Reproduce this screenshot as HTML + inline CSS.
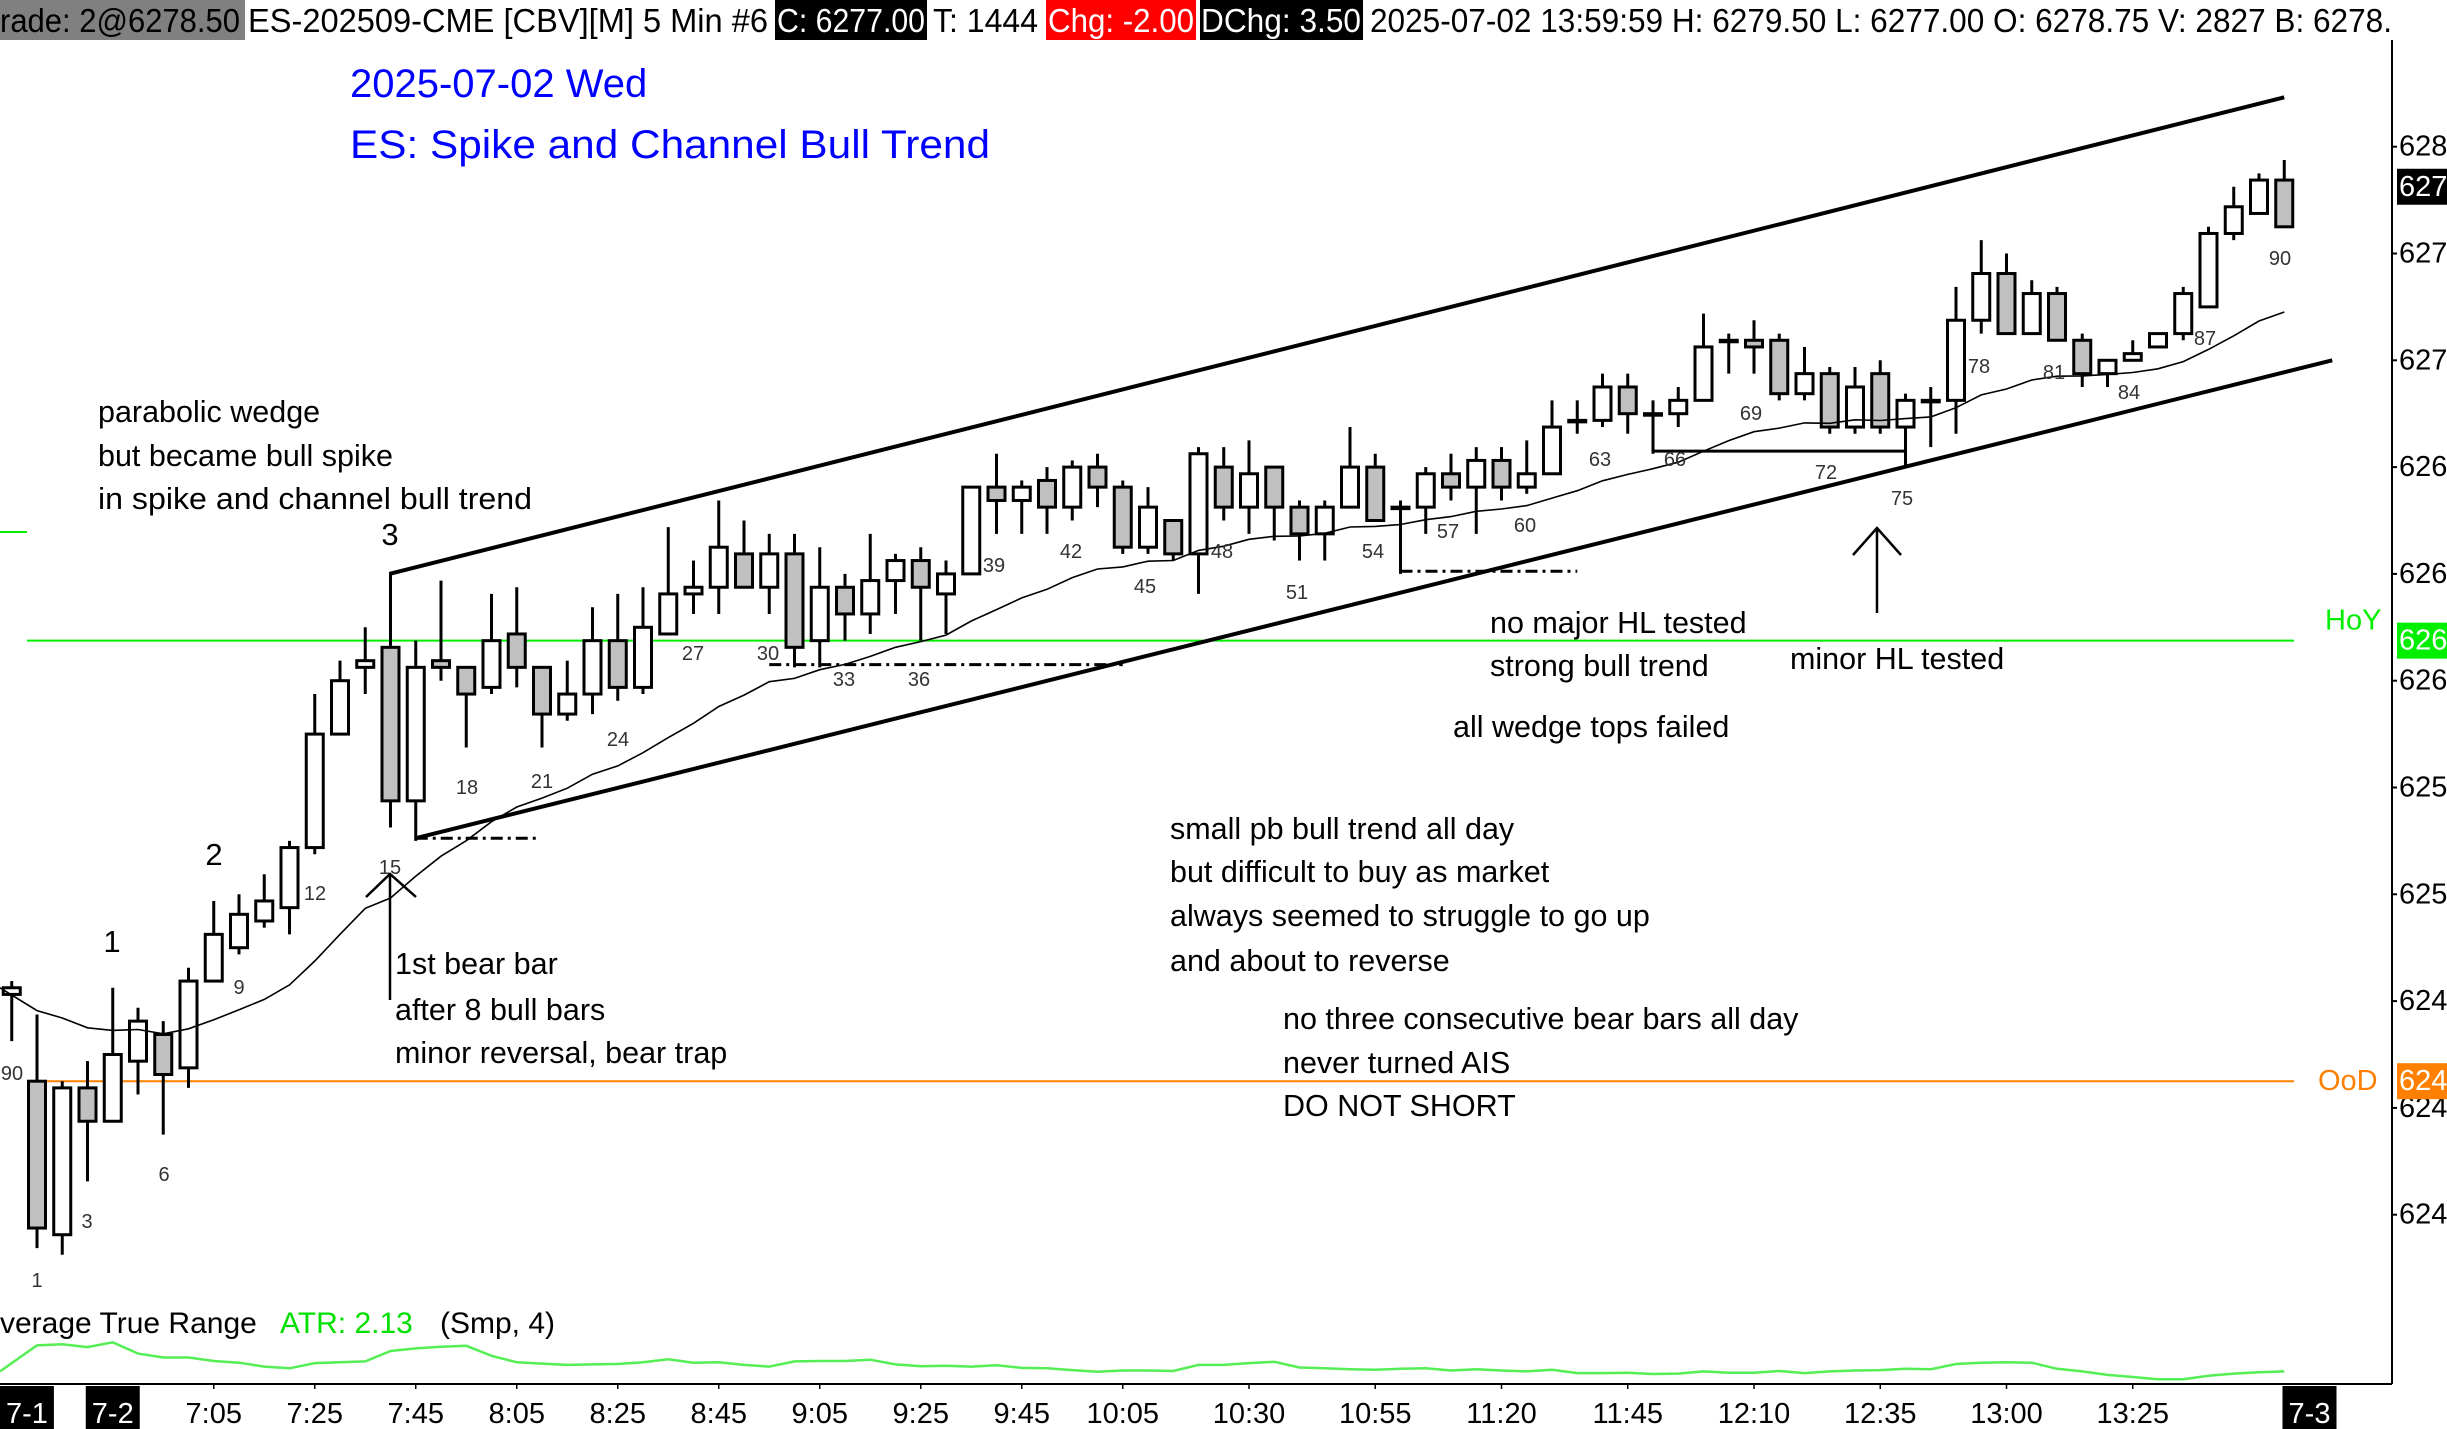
<!DOCTYPE html>
<html><head><meta charset="utf-8"><style>
html,body{margin:0;padding:0;background:#fff;}
svg{display:block;font-family:"Liberation Sans",sans-serif;}
</style></head><body>
<svg id="chart" width="2447" height="1429" viewBox="0 0 2447 1429" xmlns="http://www.w3.org/2000/svg">
<rect x="0" y="0" width="2447" height="1429" fill="#fff"/>
<g font-size="33">
  <rect x="0" y="0" width="245" height="40" fill="#808080"/>
  <text x="0" y="32" textLength="240" lengthAdjust="spacingAndGlyphs">rade: 2@6278.50</text>
  <text x="248" y="32" textLength="520" lengthAdjust="spacingAndGlyphs">ES-202509-CME [CBV][M]  5 Min  #6</text>
  <rect x="775" y="0" width="152" height="40" fill="#000"/>
  <text x="777" y="32" fill="#fff" textLength="148" lengthAdjust="spacingAndGlyphs">C: 6277.00</text>
  <text x="933" y="32" textLength="105" lengthAdjust="spacingAndGlyphs">T: 1444</text>
  <rect x="1046" y="0" width="150" height="40" fill="#ff0000"/>
  <text x="1048" y="32" fill="#fff" textLength="146" lengthAdjust="spacingAndGlyphs">Chg: -2.00</text>
  <rect x="1200" y="0" width="163" height="40" fill="#000"/>
  <text x="1201" y="32" fill="#fff" textLength="160" lengthAdjust="spacingAndGlyphs">DChg: 3.50</text>
  <text x="1370" y="32" textLength="1022" lengthAdjust="spacingAndGlyphs">2025-07-02 13:59:59 H: 6279.50 L: 6277.00 O: 6278.75 V: 2827 B: 6278.</text>
</g>
<g fill="#0000ff" font-size="40">
  <text x="350" y="97">2025-07-02 Wed</text>
  <text x="350" y="158" textLength="640" lengthAdjust="spacingAndGlyphs">ES: Spike and Channel Bull Trend</text>
</g>
<g id="lines"></g>
<g id="candles"></g>
<g id="ema"></g>
<g font-size="30.5" fill="#000">
  <text x="98" y="422">parabolic wedge</text>
  <text x="98" y="466">but became bull spike</text>
  <text x="98" y="509" textLength="434" lengthAdjust="spacingAndGlyphs">in spike and channel bull trend</text>
  <text x="395" y="974">1st bear bar</text>
  <text x="395" y="1020">after 8 bull bars</text>
  <text x="395" y="1063">minor reversal, bear trap</text>
  <text x="1490" y="633">no major HL tested</text>
  <text x="1490" y="676">strong bull trend</text>
  <text x="1790" y="669">minor HL tested</text>
  <text x="1453" y="737">all wedge tops failed</text>
  <text x="1170" y="839">small pb bull trend all day</text>
  <text x="1170" y="882">but difficult to buy as market</text>
  <text x="1170" y="926">always seemed to struggle to go up</text>
  <text x="1170" y="971">and about to reverse</text>
  <text x="1283" y="1029">no three consecutive bear bars all day</text>
  <text x="1283" y="1073">never turned AIS</text>
  <text x="1283" y="1116">DO NOT SHORT</text>
</g>
<g font-size="31" text-anchor="middle" fill="#000">
  <text x="390" y="545">3</text><text x="214" y="865">2</text><text x="112" y="952">1</text>
</g>
<g font-size="20" text-anchor="middle" fill="#333" dominant-baseline="central">
<text x="12" y="1074">90</text><text x="37" y="1281">1</text><text x="87" y="1222">3</text><text x="164" y="1175">6</text><text x="239" y="988">9</text><text x="315" y="894">12</text><text x="390" y="868">15</text><text x="467" y="788">18</text><text x="542" y="782">21</text><text x="618" y="740">24</text><text x="693" y="654">27</text><text x="768" y="654">30</text><text x="844" y="680">33</text><text x="919" y="680">36</text><text x="994" y="566">39</text><text x="1071" y="552">42</text><text x="1145" y="587">45</text><text x="1222" y="552">48</text><text x="1297" y="593">51</text><text x="1373" y="552">54</text><text x="1448" y="532">57</text><text x="1525" y="526">60</text><text x="1600" y="460">63</text><text x="1675" y="460">66</text><text x="1751" y="414">69</text><text x="1826" y="473">72</text><text x="1902" y="499">75</text><text x="1979" y="367">78</text><text x="2054" y="373">81</text><text x="2129" y="393">84</text><text x="2205" y="339">87</text><text x="2280" y="259">90</text>
</g>
<g stroke="#000" stroke-width="2.5" fill="none">
  <path d="M390 1000 L390 874 M366 897 L390 874 L416 897"/>
  <path d="M1877 613 L1877 528 M1853 555 L1877 528 L1901 555"/>
</g>
<g id="yaxis"></g>
<g id="xaxis"></g>
<g id="atr">
  <text x="0" y="1333" font-size="30">verage True Range</text>
  <text x="280" y="1333" font-size="30" fill="#00e000">ATR: 2.13</text>
  <text x="440" y="1333" font-size="30">(Smp, 4)</text>
</g>
</svg>
<script>
const opens=[6248.25,6245,6239.25,6244.75,6243.5,6245.75,6246.75,6245.5,6248.75,6250,6251,6251.5,6253.75,6258,6260.5,6261.25,6255.5,6260.75,6260.5,6259.75,6261.75,6260.5,6258.75,6259.5,6261.5,6259.75,6261.75,6263.25,6263.5,6264.75,6263.5,6264.75,6261.5,6263.5,6262.5,6263.75,6264.5,6263.25,6264,6267.25,6266.75,6267.5,6266.5,6268,6267.25,6265,6266,6264.75,6268,6266.5,6268,6266.5,6265.5,6266.5,6268,6266.5,6266.5,6267.75,6267.25,6268.25,6267.25,6267.75,6269.75,6269.75,6271,6270,6270,6270.5,6272.75,6272.75,6272.75,6270.75,6271.5,6269.5,6271.5,6269.5,6270.5,6270.5,6273.5,6275.25,6273,6274.5,6272.75,6271.5,6272,6272.5,6273,6274,6276.75,6277.5,6278.75];
const highs=[6248.75,6247.5,6245,6245.75,6248.5,6247.75,6247.25,6249.25,6251.75,6252,6252.75,6254,6259.5,6260.75,6262,6264,6261.5,6263.75,6260.5,6263.25,6263.5,6260.5,6260.75,6262.75,6263.25,6263.5,6265.75,6264.5,6266.75,6266,6265.5,6265.5,6265,6264,6265.5,6264.75,6265,6264.5,6267.25,6268.5,6267.5,6268,6268.25,6268.5,6267.5,6267.25,6266,6268.75,6268.75,6269,6268,6266.75,6266.75,6269.5,6268.5,6266.75,6268,6268.5,6268.75,6268.75,6269,6270.5,6270.5,6271.5,6271.5,6270.5,6271,6273.75,6273,6273.5,6273,6272.5,6271.75,6271.75,6272,6270.75,6271,6274.75,6276.5,6276,6275,6274.75,6273,6272,6272.75,6273,6274.75,6277,6278.5,6279,6279.5];
const lows=[6246.5,6238.75,6238.5,6241.25,6243.5,6244.5,6243,6244.75,6248.75,6249.75,6250.75,6250.5,6253.5,6258,6259.5,6254.5,6254,6260,6257.5,6259.5,6259.75,6257.5,6258.5,6258.75,6259.25,6259.5,6261.75,6262.5,6262.5,6263.5,6262.5,6260.5,6260.5,6261.5,6261.75,6262.5,6261.5,6261.75,6264,6265.5,6265.5,6265.5,6266,6266.5,6264.75,6264.75,6264.5,6263.25,6266,6265.5,6265.25,6264.5,6264.5,6266.5,6266,6264,6265.5,6266.75,6265.5,6266.75,6267,6267.75,6269.25,6269.5,6269.25,6268.5,6269.5,6270.5,6271.5,6271.5,6270.5,6270.5,6269.25,6269.25,6269.25,6268,6268.75,6269.25,6273,6273,6273,6272.75,6271,6271,6272,6272.5,6272.75,6274,6276.5,6277.5,6277];
const closes=[6248.5,6239.5,6244.75,6243.5,6246,6247.25,6245.25,6248.75,6250.5,6251.25,6251.75,6253.75,6258,6260,6260.75,6255.5,6260.5,6260.5,6259.5,6261.5,6260.5,6258.75,6259.5,6261.5,6259.75,6262,6263.25,6263.5,6265,6263.5,6264.75,6261.25,6263.5,6262.5,6263.75,6264.5,6263.5,6264,6267.25,6266.75,6267.25,6266.5,6268,6267.25,6265,6266.5,6264.75,6268.5,6266.5,6267.75,6266.5,6265.5,6266.5,6268,6266,6266.5,6267.75,6267.25,6268.25,6267.25,6267.75,6269.5,6269.75,6271,6270,6270,6270.5,6272.5,6272.75,6272.5,6270.75,6271.5,6269.5,6271,6269.5,6270.5,6270.5,6273.5,6275.25,6273,6274.5,6272.75,6271.5,6272,6272.25,6273,6274.5,6276.75,6277.75,6278.75,6277];
const emaStart=6248.5;
const priceTicks=[6280,6276,6272,6268,6264,6260,6256,6252,6248,6244,6240];
const timeLabels=["7:05","7:25","7:45","8:05","8:25","8:45","9:05","9:25","9:45","10:05","10:30","10:55","11:20","11:45","12:10","12:35","13:00","13:25"];
const timeBars=[8,12,16,20,24,28,32,36,40,44,49,54,59,64,69,74,79,84];
const dateLabels=["7-1","7-2","7-3"];
const dateBars=[0.6,4,91];
const hoyPrice=6261.5, oodPrice=6245, lastPrice=6278.5;

const NS="http://www.w3.org/2000/svg";
const X=i=>11.75+i*25.25;
const Y=p=>146.7+(6280-p)*26.7;
const ATRY=v=>1387-6.94*v;
function mk(tag,attrs,parent){const e=document.createElementNS(NS,tag);for(const k in attrs)e.setAttribute(k,attrs[k]);parent.appendChild(e);return e;}

const L=document.getElementById('lines');
let e;
e=mk('line',{x1:27,x2:2294,y1:Y(hoyPrice),y2:Y(hoyPrice),stroke:'#00ee00','stroke-width':2},L);


e=mk('line',{x1:0,x2:27,y1:532,y2:532,stroke:'#00ee00','stroke-width':2},L);


e=mk('line',{x1:27,x2:2294,y1:Y(oodPrice),y2:Y(oodPrice),stroke:'#ff8000','stroke-width':2},L);


e=mk('line',{x1:X(14.95),y1:Y(6264),x2:X(90),y2:Y(6281.85),stroke:'#000','stroke-width':4},L);


e=mk('line',{x1:X(16),y1:Y(6254.1),x2:X(91.9),y2:Y(6272),stroke:'#000','stroke-width':4},L);


[[16,20.8,6254.1],[30,44,6260.6],[55,62,6264.1]].forEach(d=>{
  const l=mk('line',{x1:X(d[0]),x2:X(d[1]),y1:Y(d[2]),y2:Y(d[2]),stroke:'#000','stroke-width':3,'stroke-dasharray':'12,5,3,5'},L);
  
  
});
e=mk('line',{x1:X(65),x2:X(75),y1:Y(6268.6),y2:Y(6268.6),stroke:'#000','stroke-width':3},L);



const CG=document.getElementById('candles');
for(let i=0;i<opens.length;i++){
  const g=mk('g',{},CG);
  
  
  const x=X(i);
  mk('line',{x1:x,x2:x,y1:Y(highs[i]),y2:Y(lows[i]),stroke:'#000','stroke-width':3},g);
  const top=Y(Math.max(opens[i],closes[i])),bot=Y(Math.min(opens[i],closes[i]));
  const h=Math.max(bot-top,1.5);
  mk('rect',{x:x-8.5,y:top,width:17,height:h,fill:closes[i]<opens[i]?'#c0c0c0':'#fff',stroke:'#000','stroke-width':3},g);
}

const EG=document.getElementById('ema');
let ema=emaStart,pts=[];
for(let i=0;i<closes.length;i++){ if(i>0) ema=ema+(closes[i]-ema)*2/21; pts.push((i===0?0:X(i)).toFixed(1)+','+Y(ema).toFixed(1)); }
mk('polyline',{points:pts.join(' '),fill:'none',stroke:'#000','stroke-width':1.6},EG);

const AG=document.getElementById('atr');
const tr=[];
for(let i=0;i<closes.length;i++){const pc=i>0?closes[i-1]:opens[i];tr.push(Math.max(highs[i]-lows[i],Math.abs(highs[i]-pc),Math.abs(lows[i]-pc)));}
const ap=[];
for(let i=0;i<tr.length;i++){const s=tr.slice(Math.max(0,i-3),i+1);const v=s.reduce((a,b)=>a+b,0)/s.length;ap.push((i===0?0:X(i)).toFixed(1)+','+Math.min(1382,ATRY(v)).toFixed(1));}
e=mk('polyline',{points:ap.join(' '),fill:'none',stroke:'#55ee55','stroke-width':2.5},AG);



const YA=document.getElementById('yaxis');
mk('line',{x1:2392,x2:2392,y1:40,y2:1384,stroke:'#000','stroke-width':2},YA);
priceTicks.forEach(p=>{
  mk('line',{x1:2392,x2:2397,y1:Y(p),y2:Y(p),stroke:'#000','stroke-width':2},YA);
  const t=mk('text',{x:2399,y:Y(p),'font-size':29,'dominant-baseline':'central'},YA);
  t.textContent=p.toFixed(2);
  
  
});
[[lastPrice,'#000','#fff','last-price-box'],[hoyPrice,'#00ee00','#fff','hoy-price-box'],[oodPrice,'#ff8000','#fff','ood-price-box']].forEach(b=>{
  const y=Y(b[0]);
  const r=mk('rect',{x:2397,y:y-18,width:50,height:36,fill:b[1]},YA);
  
  
  const t=mk('text',{x:2399,y:y,'font-size':29,'dominant-baseline':'central',fill:b[2]},YA);
  t.textContent=b[0].toFixed(2);
});
e=mk('text',{x:2325,y:Y(hoyPrice)-20,'font-size':29,fill:'#00ee00','dominant-baseline':'central'},YA);
e.textContent='HoY';


e=mk('text',{x:2318,y:Y(oodPrice),'font-size':29,fill:'#ff8000','dominant-baseline':'central'},YA);
e.textContent='OoD';



const XA=document.getElementById('xaxis');
mk('line',{x1:0,x2:2392,y1:1384,y2:1384,stroke:'#000','stroke-width':2},XA);
timeLabels.forEach((s,k)=>{
  const x=X(timeBars[k]);
  mk('line',{x1:x,x2:x,y1:1384,y2:1389,stroke:'#000','stroke-width':1.5},XA);
  const t=mk('text',{x:x,y:1414,'font-size':29,'text-anchor':'middle','dominant-baseline':'central'},XA);
  t.textContent=s;
  
  
});
dateLabels.forEach((s,k)=>{
  const x=X(dateBars[k]);
  mk('rect',{x:x-27,y:1386,width:54,height:43,fill:'#000'},XA);
  const t=mk('text',{x:x,y:1414,'font-size':29,'text-anchor':'middle','dominant-baseline':'central',fill:'#fff'},XA);
  t.textContent=s;
  
  
});
</script>
</body></html>
